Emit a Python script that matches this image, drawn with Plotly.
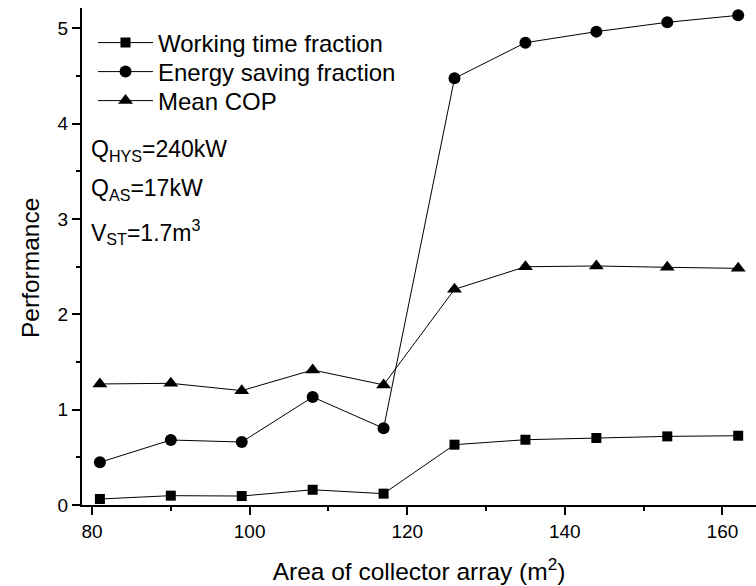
import plotly.graph_objects as go

# Collector array area (m^2)
area = [81, 90, 99, 108, 117, 126, 135, 144, 153, 162]

# Performance indicators
working_time_fraction = [0.063, 0.098, 0.094, 0.16, 0.119, 0.633, 0.685, 0.703, 0.72, 0.727]
energy_saving_fraction = [0.448, 0.682, 0.661, 1.133, 0.805, 4.477, 4.851, 4.967, 5.065, 5.138]
mean_cop = [1.27, 1.277, 1.2, 1.417, 1.26, 2.263, 2.5, 2.508, 2.494, 2.483]

x_ticks = [80, 100, 120, 140, 160]
y_ticks = [0, 1, 2, 3, 4, 5]

FONT = "Arial, Liberation Sans, sans-serif"

# name, values, marker symbol, marker size, legend id, legend row centre (px from top)
series = [
    ("Working time fraction", working_time_fraction, "square", 10, "legend", 43),
    ("Energy saving fraction", energy_saving_fraction, "circle", 12, "legend2", 72),
    ("Mean COP", mean_cop, "triangle-up", 13, "legend3", 101),
]

fig = go.Figure()
for name, vals, sym, size, leg, _ in series:
    fig.add_trace(go.Scatter(
        x=area, y=vals, name=name, mode="lines+markers",
        line=dict(color="black", width=1),
        marker=dict(symbol=sym, size=size, color="black"),
        cliponaxis=False, legend=leg,
    ))

axis_common = dict(
    showline=True, linecolor="black", linewidth=2,
    ticks="outside", ticklen=8, tickwidth=2, tickcolor="black",
    showgrid=False, zeroline=False,
    tickfont=dict(family=FONT, size=19, color="black"),
)

fig.update_xaxes(
    range=[78.73, 164.26], tickvals=x_ticks,
    minor=dict(ticks="outside", ticklen=4, tickwidth=2, tickcolor="black", dtick=10, tick0=80),
    title=dict(text="Area of collector array (m<sup>2</sup>)",
               font=dict(family=FONT, size=24.5, color="black"), standoff=22),
    **axis_common,
)
fig.update_yaxes(
    range=[0, 5.215], tickvals=y_ticks,
    minor=dict(ticks="outside", ticklen=4, tickwidth=2, tickcolor="black", dtick=0.5, tick0=0),
    **axis_common,
)

# y-axis title, placed slightly below the plot's vertical centre
fig.add_annotation(
    text="Performance", xref="paper", yref="paper",
    x=(30 - 82) / 674, y=1 - (268 - 8) / 497,
    xanchor="center", yanchor="middle", textangle=-90, showarrow=False,
    font=dict(family=FONT, size=24.5, color="black"),
)

notes = [
    ("Q<sub>HYS</sub>=240kW", 150),
    ("Q<sub>AS</sub>=17kW", 189),
    ("V<sub>ST</sub>=1.7m<sup>3</sup>", 232),
]
for txt, ypx in notes:
    fig.add_annotation(
        text=txt, xref="paper", yref="paper",
        x=(89 - 82) / 674, y=1 - (ypx - 8) / 497,
        xanchor="left", yanchor="middle", showarrow=False,
        font=dict(family=FONT, size=23, color="black"),
    )

legend_style = dict(
    x=(93 - 82) / 674, xanchor="left", yanchor="middle",
    bgcolor="rgba(0,0,0,0)", borderwidth=0, itemwidth=55,
    font=dict(family=FONT, size=24, color="black"),
)
layout_legends = {}
for _, _, _, _, leg, ypx in series:
    layout_legends[leg] = dict(legend_style, y=1 - (ypx - 8) / 497)

fig.update_layout(
    width=756, height=586,
    margin=dict(l=82, r=0, t=8, b=81),
    paper_bgcolor="white", plot_bgcolor="white",
    showlegend=True,
    **layout_legends,
)

fig.write_html("out.html")
